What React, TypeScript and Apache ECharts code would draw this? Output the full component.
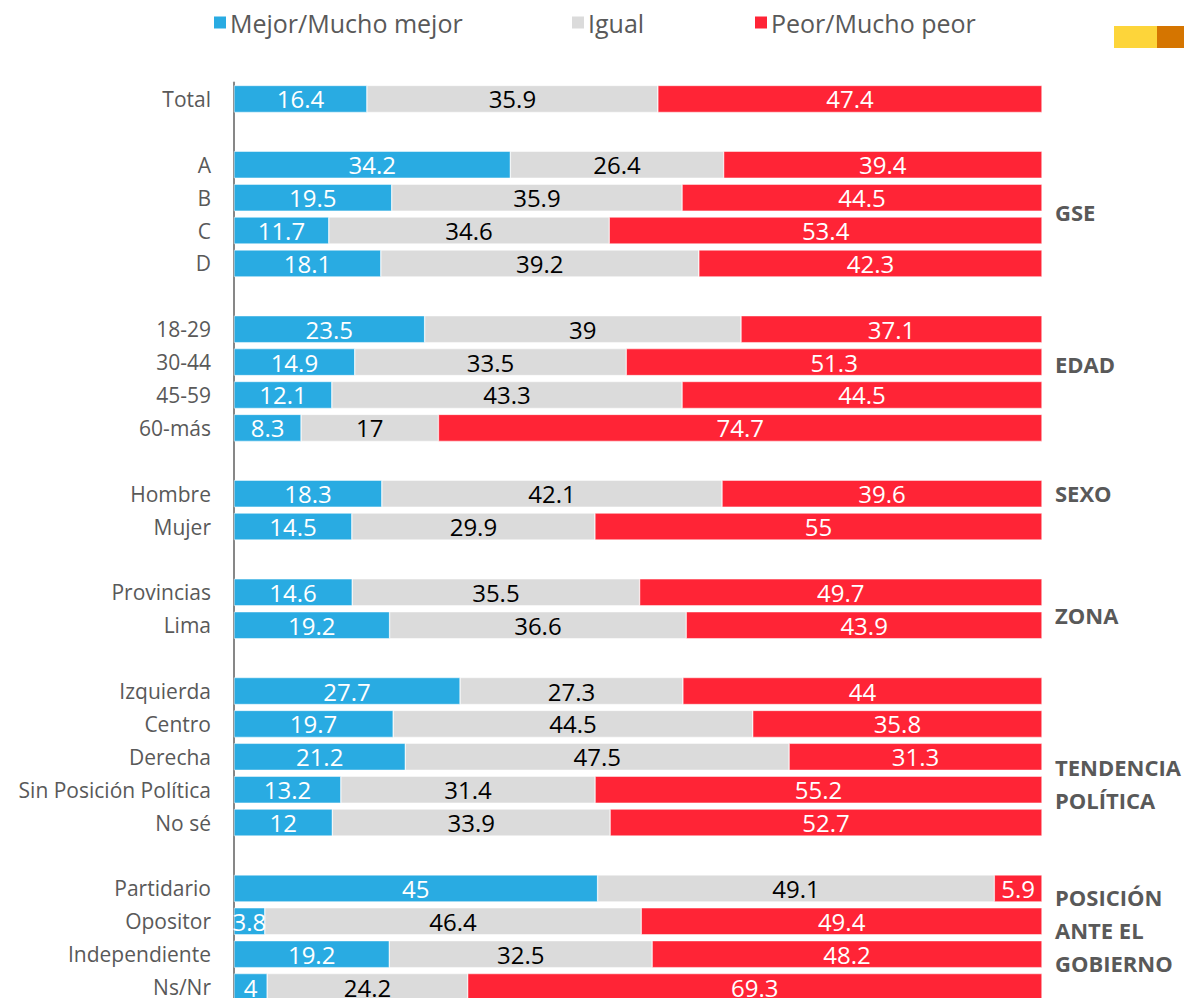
import React, { useEffect, useRef } from "react";
import * as echarts from "echarts";

const categories = [
  "Total", "gap1",
  "A", "B", "C", "D", "gap2",
  "18-29", "30-44", "45-59", "60-más", "gap3",
  "Hombre", "Mujer", "gap4",
  "Provincias", "Lima", "gap5",
  "Izquierda", "Centro", "Derecha", "Sin Posición Política", "No sé", "gap6",
  "Partidario", "Opositor", "Independiente", "Ns/Nr",
];

const mejor = [16.4, null, 34.2, 19.5, 11.7, 18.1, null, 23.5, 14.9, 12.1, 8.3, null, 18.3, 14.5, null, 14.6, 19.2, null, 27.7, 19.7, 21.2, 13.2, 12, null, 45, 3.8, 19.2, 4];
const igual = [35.9, null, 26.4, 35.9, 34.6, 39.2, null, 39, 33.5, 43.3, 17, null, 42.1, 29.9, null, 35.5, 36.6, null, 27.3, 44.5, 47.5, 31.4, 33.9, null, 49.1, 46.4, 32.5, 24.2];
const peor = [47.4, null, 39.4, 44.5, 53.4, 42.3, null, 37.1, 51.3, 44.5, 74.7, null, 39.6, 55, null, 49.7, 43.9, null, 44, 35.8, 31.3, 55.2, 52.7, null, 5.9, 49.4, 48.2, 69.3];

const seriesNames = ["Mejor/Mucho mejor", "Igual", "Peor/Mucho peor"];
const seriesColors = ["#29ABE2", "#DBDBDB", "#FF2436"];
const labelColors = ["#FFFFFF", "#000000", "#FFFFFF"];

const groupLabels = [
  { lines: ["GSE"], y: 212 },
  { lines: ["EDAD"], y: 364 },
  { lines: ["SEXO"], y: 493 },
  { lines: ["ZONA"], y: 615 },
  { lines: ["TENDENCIA", "POLÍTICA"], y: 767 },
  { lines: ["POSICIÓN", "ANTE EL", "GOBIERNO"], y: 897 },
];

const FONT = "'Open Sans', 'Noto Sans', sans-serif";

export default function App() {
  const ref = useRef<HTMLDivElement>(null);
  useEffect(() => {
    if (!ref.current) return;
    const chart = echarts.init(ref.current, null, { renderer: "svg" });
    const all = [mejor, igual, peor];
    const sums = categories.map((_, i) =>
      all.reduce((s, arr) => s + (arr[i] == null ? 0 : (arr[i] as number)), 0)
    );
    const series = all.map((arr, k) => ({
      name: seriesNames[k],
      type: "bar",
      stack: "total",
      barWidth: 27,
      itemStyle: { color: seriesColors[k], borderColor: "#FFFFFF", borderWidth: 0.5 },
      label: {
        show: true,
        position: "inside",
        color: labelColors[k],
        fontSize: 24,
        fontFamily: FONT,
        formatter: (p: any) => (p.data && p.data.raw != null ? String(p.data.raw) : ""),
      },
      data: arr.map((v, i) =>
        v == null ? { value: null, raw: null } : { value: (v / sums[i]) * 100, raw: v }
      ),
    }));

    const graphics: any[] = [
      { type: "rect", shape: { x: 1114, y: 26, width: 43, height: 22 }, style: { fill: "#FDD53A" } },
      { type: "rect", shape: { x: 1157, y: 26, width: 27, height: 22 }, style: { fill: "#D57500" } },
    ];
    groupLabels.forEach((g) => {
      g.lines.forEach((line, j) => {
        graphics.push({
          type: "text",
          x: 1055,
          y: g.y + j * 33,
          style: {
            text: line,
            fill: "#595959",
            font: `bold 22px ${FONT}`,
            textVerticalAlign: "middle",
            textAlign: "left",
          },
        });
      });
    });

    const legendLefts = [207, 565, 748];
    chart.setOption({
      animation: false,
      textStyle: { fontFamily: FONT },
      legend: seriesNames.map((n, k) => ({
        data: [n],
        left: legendLefts[k],
        top: 5,
        icon: "rect",
        itemWidth: 14,
        itemHeight: 14,
        itemGap: 0,
        textStyle: { fontSize: 25, color: "#595959", fontFamily: FONT, padding: [0, 0, 0, -2] },
        selectedMode: false,
      })),
      grid: { left: 234, top: 82.5, width: 808, height: 921, containLabel: false },
      xAxis: {
        type: "value",
        min: 0,
        max: 100,
        show: false,
        splitLine: { show: false },
      },
      yAxis: {
        type: "category",
        inverse: true,
        data: categories,
        axisLine: { show: true, lineStyle: { color: "#878787", width: 2 } },
        axisTick: { show: false },
        axisLabel: {
          color: "#595959",
          fontSize: 21,
          fontFamily: FONT,
          margin: 23,
          interval: 0,
          formatter: (v: string) => (v.startsWith("gap") ? "" : v),
        },
      },
      graphic: graphics,
      series,
    });
    return () => chart.dispose();
  }, []);
  return (
    <div
      ref={ref}
      style={{ position: "fixed", left: 0, top: 0, width: 1184, height: 1012, background: "#fff" }}
    />
  );
}
